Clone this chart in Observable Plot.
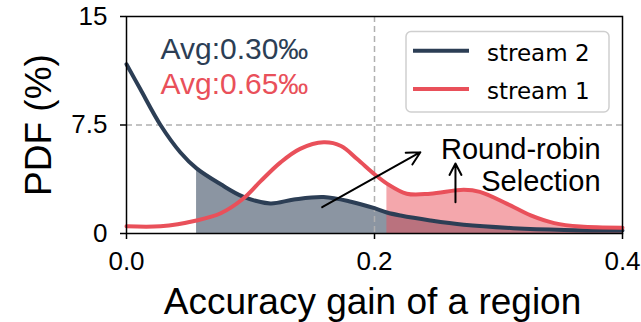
<!DOCTYPE html>
<html>
<head>
<meta charset="utf-8">
<script src="https://cdn.jsdelivr.net/npm/d3@7"></script>
<script src="https://cdn.jsdelivr.net/npm/@observablehq/plot@0.6"></script>
<style>
  html, body { margin: 0; padding: 0; background: white; }
  #chart { width: 641px; height: 322px; }
</style>
</head>
<body>
<div id="chart"></div>
<script>
// ---- data ----
const xTicks = [0, 0.2, 0.4];
const yTicks = [0, 7.5, 15];

const seriesNames = ["stream 2", "stream 1"];
const seriesColors = ["#2c3e55", "#e9505a"];

// stream 2 (navy) density curve
const stream2X = [0, 0.011, 0.0274, 0.0435, 0.0565, 0.076, 0.094, 0.116, 0.135, 0.159, 0.181, 0.2, 0.21, 0.221, 0.245, 0.272, 0.312, 0.353, 0.4];
const stream2Y = [11.7, 10.0, 7.5, 5.6, 4.5, 3.4, 2.55, 2.08, 2.35, 2.52, 2.2, 1.75, 1.45, 1.24, 0.9, 0.6, 0.37, 0.25, 0.2];

// stream 1 (red) density curve
const stream1X = [0, 0.0274, 0.0565, 0.076, 0.094, 0.108, 0.124, 0.14, 0.159, 0.173, 0.186, 0.2, 0.21, 0.226, 0.245, 0.272, 0.285, 0.307, 0.326, 0.345, 0.366, 0.4];
const stream1Y = [0.5, 0.5, 0.9, 1.4, 2.4, 3.6, 4.9, 5.85, 6.3, 6.05, 5.15, 4.1, 3.45, 2.75, 2.75, 3.02, 2.88, 2.05, 1.25, 0.72, 0.48, 0.4];

// shaded regions start (x values)
const fillStart2 = 0.0565;
const fillStart1 = 0.21;

// reference lines
const refX = [0.2];
const refY = [7.5];

// annotations
const avgLabels = ["Avg:0.30‰", "Avg:0.65‰"];
const avgX = [0.0274, 0.0274];
const avgY = [13.55, 11.13];
const noteText = ["Round-robin\nSelection"];
const noteX = [0.3823];
const noteY = [6.7];
const arrowX1 = [0.1578, 0.2653];
const arrowY1 = [1.82, 2.16];
const arrowX2 = [0.237, 0.2653];
const arrowY2 = [5.62, 4.84];

// ---- build tables ----
const s2 = stream2X.map((x, i) => ({x, y: stream2Y[i]}));
const s1 = stream1X.map((x, i) => ({x, y: stream1Y[i]}));
const avg = avgLabels.map((t, i) => ({t, x: avgX[i], y: avgY[i], c: seriesColors[i]}));
const notes = noteText.map((t, i) => ({t, x: noteX[i], y: noteY[i]}));
const arrows = arrowX1.map((x1, i) => ({x1, y1: arrowY1[i], x2: arrowX2[i], y2: arrowY2[i]}));

const navy = seriesColors[0], red = seriesColors[1];
const font = "'Liberation Sans', Arial, sans-serif";
const curve = "catmull-rom";
const dashed = {stroke: "#b0b0b0", strokeWidth: 1.5, strokeDasharray: "6,4"};

const plot = Plot.plot({
  width: 641,
  height: 322,
  marginLeft: 126,
  marginRight: 19,
  marginTop: 16,
  marginBottom: 89,
  style: {fontFamily: font, color: "black", background: "white", overflow: "visible"},
  x: {domain: [0, 0.4]},
  y: {domain: [0, 15]},
  marks: [
    Plot.areaY(s2.filter(d => d.x >= fillStart2), {x: "x", y: "y", fill: navy, fillOpacity: 0.55, curve}),
    Plot.areaY(s1.filter(d => d.x >= fillStart1), {x: "x", y: "y", fill: red, fillOpacity: 0.5, curve}),
    Plot.ruleX(refX, dashed),
    Plot.ruleY(refY, dashed),
    Plot.line(s2, {x: "x", y: "y", stroke: navy, strokeWidth: 4, curve}),
    Plot.line(s1, {x: "x", y: "y", stroke: red, strokeWidth: 4, curve}),
    Plot.frame({stroke: "black", strokeWidth: 1.5}),
    Plot.axisX({ticks: xTicks, tickFormat: d => d.toFixed(1), tickSize: 6, tickPadding: 12, fontSize: 26, strokeWidth: 1.5, label: null}),
    Plot.axisY({ticks: yTicks, tickFormat: d => String(d), tickSize: 6, tickPadding: 13, fontSize: 26, strokeWidth: 1.5, label: null}),
    Plot.text(["Accuracy gain of a region"], {text: d => d, frameAnchor: "bottom", textAnchor: "middle", lineAnchor: "top", dy: 54, dx: -2, fontSize: 37}),
    Plot.text(["PDF (%)"], {text: d => d, frameAnchor: "left", textAnchor: "middle", rotate: -90, lineAnchor: "top", dx: -102, fontSize: 37}),
    Plot.text(avg, {x: "x", y: "y", text: "t", fill: "c", textAnchor: "start", lineAnchor: "top", fontSize: 30}),
    Plot.text(notes, {x: "x", y: "y", text: "t", textAnchor: "end", lineAnchor: "top", lineHeight: 1.09, fontSize: 29, fill: "black"}),
    Plot.arrow(arrows, {x1: "x1", y1: "y1", x2: "x2", y2: "y2", stroke: "black", strokeWidth: 2, headLength: 11, headAngle: 55})
  ]
});

document.getElementById("chart").appendChild(plot);

// ---- legend (inside the frame, top-right) ----
const svg = d3.select(plot);
const frameRight = 641 - 19, frameTop = 16;
const lg = svg.append("g").attr("transform", `translate(${frameRight - 216},${frameTop + 15.5})`);
lg.append("rect")
  .attr("x", 0).attr("y", 0).attr("width", 203).attr("height", 80.5)
  .attr("rx", 5).attr("ry", 5)
  .attr("fill", "white").attr("fill-opacity", 0.85)
  .attr("stroke", "#cfcfcf").attr("stroke-width", 1.5);
seriesNames.forEach((name, i) => {
  const cy = 19.2 + i * 38.3;
  lg.append("line")
    .attr("x1", 7).attr("x2", 63).attr("y1", cy).attr("y2", cy)
    .attr("stroke", seriesColors[i]).attr("stroke-width", 4);
  lg.append("text")
    .attr("x", 81).attr("y", cy + 10)
    .attr("text-anchor", "start")
    .attr("font-family", "'DejaVu Sans', sans-serif")
    .attr("font-size", 23)
    .attr("fill", "black")
    .text(name);
});
</script>
</body>
</html>
